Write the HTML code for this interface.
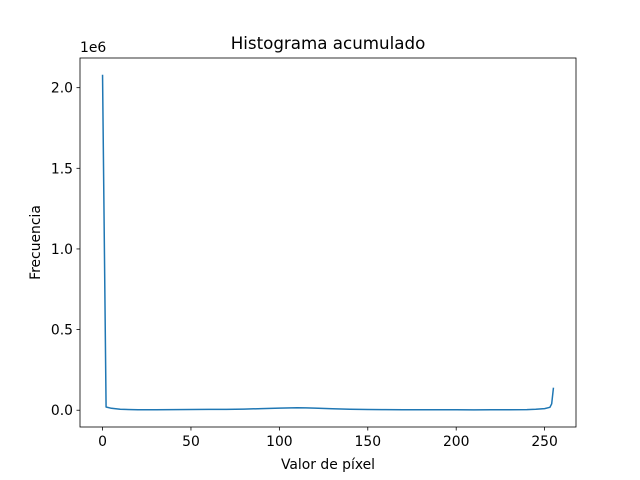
<!DOCTYPE html>
<html><head><meta charset="utf-8"><style>
body{margin:0;background:#fff}
svg{display:block;font-family:"DejaVu Sans","Liberation Sans",sans-serif}
</style></head><body>
<svg width="640" height="480">
<rect width="640" height="480" fill="#fff"/>
<g id="plot"></g>
</svg>
<script>
const xs=[0,2,5,10,20,30,40,50,60,70,80,90,100,110,115,120,130,140,150,160,170,180,190,200,210,220,230,240,245,250,253,254,255];
const ys=[2080000,20000,12000,6000,3000,3000,4000,4500,5000,5500,7000,10000,13000,15000,14500,13000,9000,6000,4500,3500,3000,2800,2700,2600,2500,2600,3000,4000,6000,10000,18000,40000,140000];
const xTicks=[0,50,100,150,200,250];
const yTicks=[0,0.5,1.0,1.5,2.0];
const L=80,R=576,T=58,B=427;
const xmin=-12.75,xmax=267.75,ymin=-104000,ymax=2184000;
const X=v=>L+(v-xmin)/(xmax-xmin)*(R-L);
const Y=v=>B-(v-ymin)/(ymax-ymin)*(B-T);
const g=document.getElementById('plot');const NS='http://www.w3.org/2000/svg';
function el(t,a,txt){const e=document.createElementNS(NS,t);for(const k in a)e.setAttribute(k,a[k]);if(txt!=null)e.textContent=txt;g.appendChild(e);return e;}
let line=el('polyline',{points:xs.map((x,i)=>X(x)+','+Y(ys[i])).join(' '),fill:'none',stroke:'#1f77b4','stroke-width':1.5,'stroke-linejoin':'round'});


let fr=el('rect',{x:L,y:T,width:R-L,height:B-T,fill:'none',stroke:'#000','stroke-width':0.8});


xTicks.forEach(v=>{const x=X(v);el('line',{x1:x,x2:x,y1:B,y2:B+3.5,stroke:'#000','stroke-width':0.8});
const t=el('text',{x:x,y:B+19,'text-anchor':'middle','font-size':13.9},v);

});
yTicks.forEach(v=>{const y=Y(v*1e6);el('line',{x1:L,x2:L-3.5,y1:y,y2:y,stroke:'#000','stroke-width':0.8});
const t=el('text',{x:L-7,y:y+5,'text-anchor':'end','font-size':13.9},v.toFixed(1));

});
let a=el('text',{x:L,y:T-6,'font-size':13.9},'1e6');


let tt=el('text',{x:(L+R)/2,y:T-9,'text-anchor':'middle','font-size':16.7},'Histograma acumulado');


let xl=el('text',{x:(L+R)/2,y:469,'text-anchor':'middle','font-size':13.9},'Valor de píxel');


let yl=el('text',{x:40,y:(T+B)/2,'text-anchor':'middle','font-size':13.9,transform:'rotate(-90 40 '+(T+B)/2+')'},'Frecuencia');


</script>
</body></html>
